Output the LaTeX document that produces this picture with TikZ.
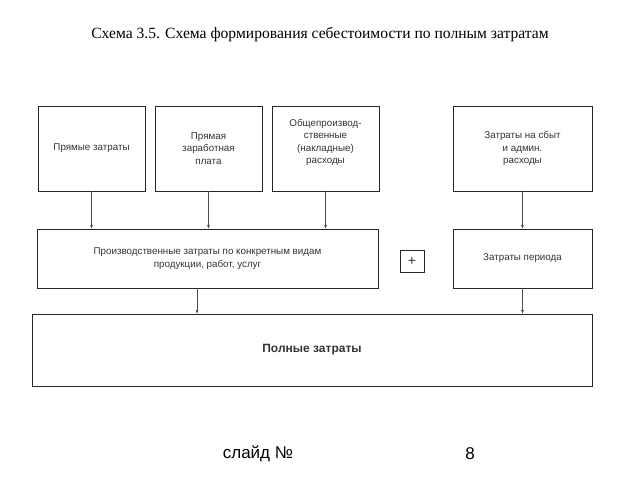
\documentclass[tikz,border=0pt]{standalone}
\usepackage{fontspec}
\setmainfont{Liberation Serif}
\newfontfamily\boxfont{Liberation Sans}
\usetikzlibrary{arrows.meta}
\usetikzlibrary{calc}

\begin{document}
\begin{tikzpicture}[x=1pt, y=-1pt, line width=0.8pt,
        box_style/.style={rectangle, draw=black!85, inner sep=0pt, align=center,
            font=\boxfont\fontsize{9.8}{12.6}\selectfont, text=black!80},
        edge_style/.style={draw=black!70, line width=0.7pt, -{Stealth[length=4pt,width=3pt]}}]
        \useasboundingbox (0,0) rectangle (640,480);

        \node [font=\fontsize{15.6}{18}\selectfont](title) at (320,35) {Схема 3.5. Схема формирования себестоимости по полным затратам};

        \node [box_style, minimum width=107, minimum height=85](n1) at (91.5,148.5) {Прямые затраты};
        \node [box_style, minimum width=107, minimum height=85](n2) at (208.5,148.5) {Прямая\\заработная\\плата};
        \node [box_style, minimum width=107, minimum height=85](n3) at (325.5,148.5) {};
        \node [box_style, draw=none](n3text) at (325.5,142.5) {Общепроизвод-\\ственные\\(накладные)\\расходы};
        \node [box_style, minimum width=139, minimum height=85](n4) at (522.5,148.5) {Затраты на сбыт\\и админ.\\расходы};
        \node [box_style, minimum width=341, minimum height=59](n5) at (207.5,258.5) {Производственные затраты по конкретным видам\\продукции, работ, услуг};
        \node [box_style, minimum width=24, minimum height=22, font=\boxfont\fontsize{14}{16}\selectfont](plus) at (412,261) {+};
        \node [box_style, minimum width=139, minimum height=59](n6) at (522.5,258.5) {Затраты периода};
        \node [box_style, minimum width=560, minimum height=72, font=\boxfont\fontsize{12}{14}\selectfont\bfseries](n7) at (312,350) {Полные затраты};

        \draw [edge_style] (n1) -- (n1 |- n5.north);
        \draw [edge_style] (n2) -- (n2 |- n5.north);
        \draw [edge_style] (n3) -- (n3 |- n5.north);
        \draw [edge_style] (n4) -- (n6);
        \draw [edge_style] ([xshift=-10.5pt]n5.south) -- ([xshift=-10.5pt]n5.south |- n7.north);
        \draw [edge_style] (n6) -- (n6 |- n7.north);

        \node [font=\boxfont\fontsize{17}{20}\selectfont](slide) at (258,454) {слайд №};
        \node [font=\boxfont\fontsize{17}{20}\selectfont](num) at (470,454) {8};
        \end{tikzpicture}
\end{document}
